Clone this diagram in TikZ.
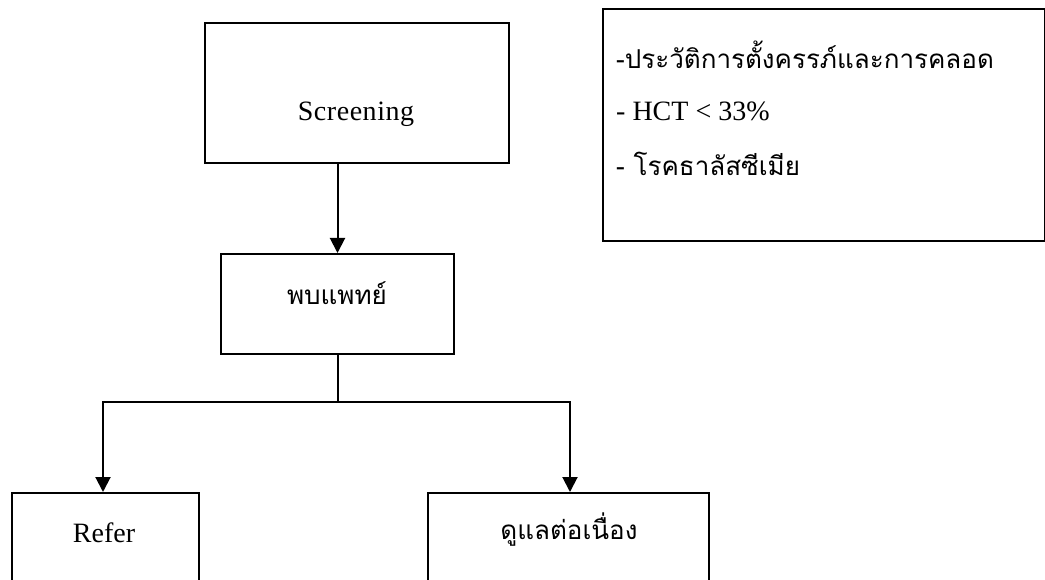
\documentclass[tikz,border=0pt]{standalone}
\usepackage{fontspec}
\setmainfont{Liberation Serif}
\newfontfamily\thaifont[Script=Thai]{Loma}
\usetikzlibrary{arrows.meta}
\tikzset{
  box/.style={draw, line width=2pt, rectangle, inner sep=0pt},
  lbl/.style={inner sep=0pt, font=\fontsize{28}{32}\selectfont},
  thlbl/.style={inner sep=0pt, font=\thaifont\fontsize{26}{32}\selectfont},
  conn/.style={line width=2pt},
  arr/.style={conn, -{Triangle[length=15pt,width=15pt]}}
}
\begin{document}
\begin{tikzpicture}[x=1pt,y=-1pt]
\useasboundingbox (0,0) rectangle (1045,580);
\clip (0,0) rectangle (1045,580);
% boxes
\node[box, minimum width=304pt, minimum height=140pt, anchor=north west] (screen) at (204,22) {};
\node[lbl] (screentxt) at (356,114) {\addfontfeature{LetterSpace=2}Screening};
\node[box, minimum width=233pt, minimum height=100pt, anchor=north west] (pob) at (220,253) {};
\node[thlbl] (pobtxt) at (337,293) {พบแพทย์};
\node[box, minimum width=187pt, minimum height=140pt, anchor=north west] (refer) at (11,492) {};
\node[lbl] (refertxt) at (104,533) {Refer};
\node[box, minimum width=281pt, minimum height=140pt, anchor=north west] (care) at (427,492) {};
\node[thlbl] (caretxt) at (569,530) {ดูแลต่อเนื่อง};
\node[box, minimum width=442pt, minimum height=232pt, anchor=north west] (info) at (602,8) {};
\node[thlbl, anchor=west] (info1) at (616,55) {-ประวัติการตั้งครรภ์และการคลอด};
\node[lbl, anchor=west] (info2) at (616,111) {- HCT {\textless} 33\%};
\node[thlbl, anchor=west] (info3) at (616,164) {- โรคธาลัสซีเมีย};
% connectors
\draw[arr] (screen.south -| pob.north) -- (pob.north);
\coordinate (split) at (pob.south |- 0,402);
\draw[conn] (pob.south) -- (split);
\draw[arr] (split) -| (refer.north -| 103,0);
\draw[arr] (split) -| (care.north -| 570,0);
\end{tikzpicture}
\end{document}
